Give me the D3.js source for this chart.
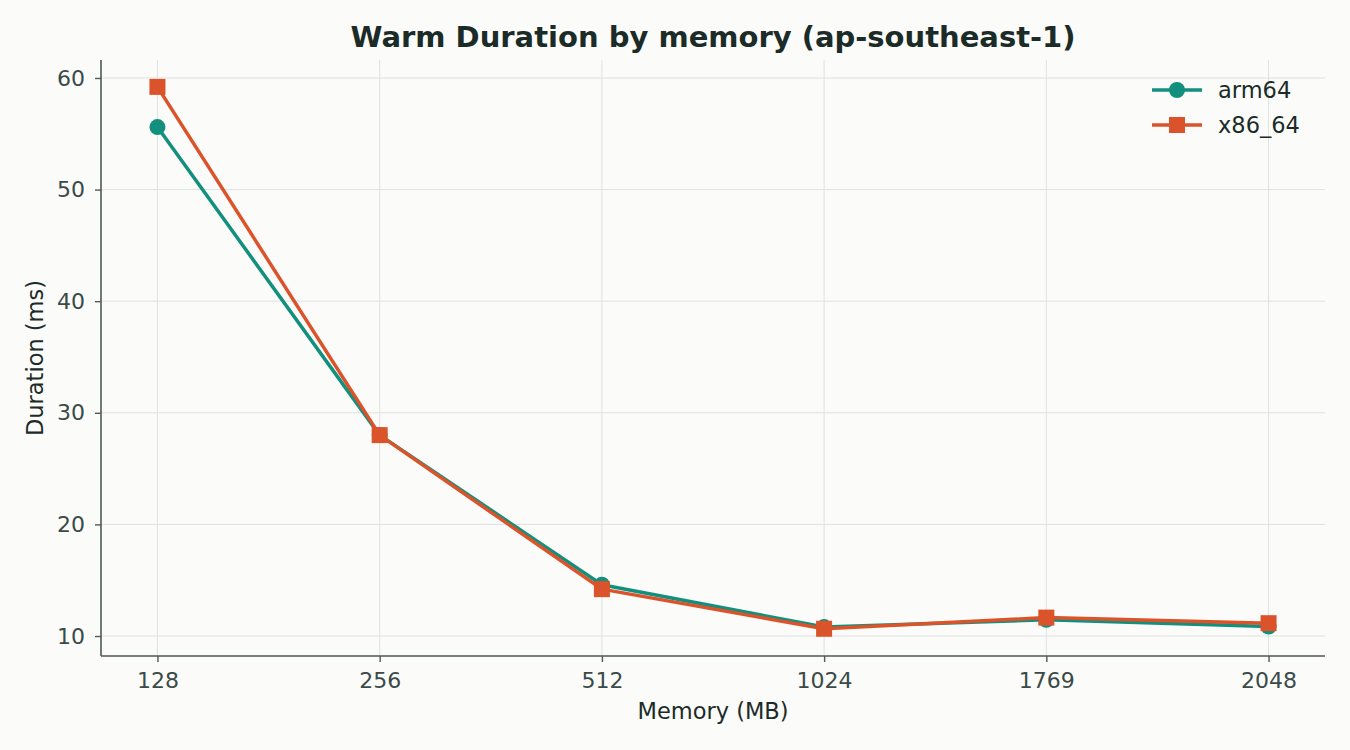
<!DOCTYPE html>
<html><head><meta charset="utf-8">
<script src="https://cdn.jsdelivr.net/npm/d3@7"></script>
<style>
html,body{margin:0;padding:0;background:#fbfbf9;}
svg{display:block;font-family:"DejaVu Sans",sans-serif;}
</style></head>
<body>
<svg id="chart" width="1350" height="750"></svg>
<script>
const categories = ["128","256","512","1024","1769","2048"];
const arm64 = [55.6, 28.0, 14.6, 10.8, 11.45, 10.85];
const x86_64 = [59.2, 28.0, 14.2, 10.65, 11.65, 11.15];
const yTicks = [10, 20, 30, 40, 50, 60];
const seriesNames = ["arm64", "x86_64"];
const colors = {arm64: "#138f7d", x86_64: "#db532a"};

const svg = d3.select("#chart");
const W = 1350, H = 750;
svg.append("rect").attr("width", W).attr("height", H).attr("fill", "#fbfbf9");
const m = {left: 101, right: 1325, top: 60, bottom: 656};
const axisColor = "#4d5b59";
const textColor = "#3a4a48";

const x = d3.scalePoint().domain(categories).range([m.left, m.right]).padding(0.254);
const y = d3.scaleLinear().domain([8.21, 61.61]).range([m.bottom, m.top]);

// grid
const g = svg.append("g");
g.selectAll(".gy").data(yTicks).join("line")
  .attr("x1", m.left).attr("x2", m.right)
  .attr("y1", d => y(d)).attr("y2", d => y(d))
  .attr("stroke", "#dfe2e0").attr("stroke-width", 1);
g.selectAll(".gx").data(categories).join("line")
  .attr("x1", d => x(d)).attr("x2", d => x(d))
  .attr("y1", m.top).attr("y2", m.bottom)
  .attr("stroke", "#dfe2e0").attr("stroke-width", 1);

// axes
const xAxis = svg.append("g").attr("transform", `translate(0,${m.bottom})`)
  .call(d3.axisBottom(x).tickSize(6).tickPadding(10));
const yAxis = svg.append("g").attr("transform", `translate(${m.left},0)`)
  .call(d3.axisLeft(y).tickValues(yTicks).tickSize(6).tickPadding(10));
[xAxis, yAxis].forEach(a => {
  a.attr("font-size", 22).attr("font-family", "DejaVu Sans, sans-serif");
  a.select(".domain").attr("stroke", axisColor).attr("stroke-width", 1.6);
  a.selectAll(".tick line").attr("stroke", axisColor).attr("stroke-width", 1.4);
  a.selectAll(".tick text").attr("fill", textColor).attr("font-size", 22)
    .attr("font-family", "DejaVu Sans, sans-serif");
});
xAxis.select(".domain").attr("d", `M${m.left},0H${m.right}`);
yAxis.select(".domain").attr("d", `M0,${m.top}V${m.bottom}`);

// lines
const data = {arm64: arm64, x86_64: x86_64};
const line = d3.line().x((d, i) => x(categories[i])).y(d => y(d));
seriesNames.forEach(name => {
  svg.append("path").datum(data[name])
    .attr("d", line).attr("fill", "none")
    .attr("stroke", colors[name]).attr("stroke-width", 3.5)
    .attr("stroke-linejoin", "round").attr("stroke-linecap", "round");
  if (name === "arm64") {
    svg.selectAll(".pa").data(data[name]).join("circle")
      .attr("cx", (d, i) => x(categories[i])).attr("cy", d => y(d))
      .attr("r", 8).attr("fill", colors[name]);
  } else {
    svg.selectAll(".px").data(data[name]).join("rect")
      .attr("x", (d, i) => x(categories[i]) - 8).attr("y", d => y(d) - 8)
      .attr("width", 16).attr("height", 16).attr("fill", colors[name]);
  }
});

// title & labels
svg.append("text").attr("x", 713).attr("y", 47).attr("text-anchor", "middle")
  .attr("font-size", 29).attr("font-weight", "bold").attr("fill", "#1b2b28")
  .text("Warm Duration by memory (ap-southeast-1)");
svg.append("text").attr("x", 713).attr("y", 719).attr("text-anchor", "middle")
  .attr("font-size", 22.5).attr("fill", "#1b2b28").text("Memory (MB)");
svg.append("text").attr("transform", "translate(43,358) rotate(-90)")
  .attr("text-anchor", "middle").attr("font-size", 22.5).attr("fill", "#1b2b28")
  .text("Duration (ms)");

// legend
const leg = svg.append("g");
seriesNames.forEach((name, i) => {
  const ly = 90 + i * 35;
  leg.append("line").attr("x1", 1152).attr("x2", 1202).attr("y1", ly).attr("y2", ly)
    .attr("stroke", colors[name]).attr("stroke-width", 3.5);
  if (name === "arm64") leg.append("circle").attr("cx", 1177).attr("cy", ly).attr("r", 8).attr("fill", colors[name]);
  else leg.append("rect").attr("x", 1169).attr("y", ly - 8).attr("width", 16).attr("height", 16).attr("fill", colors[name]);
  leg.append("text").attr("x", 1218).attr("y", ly + 8).attr("font-size", 22.5)
    .attr("fill", "#1b2b28").text(name);
});
</script>
</body></html>
